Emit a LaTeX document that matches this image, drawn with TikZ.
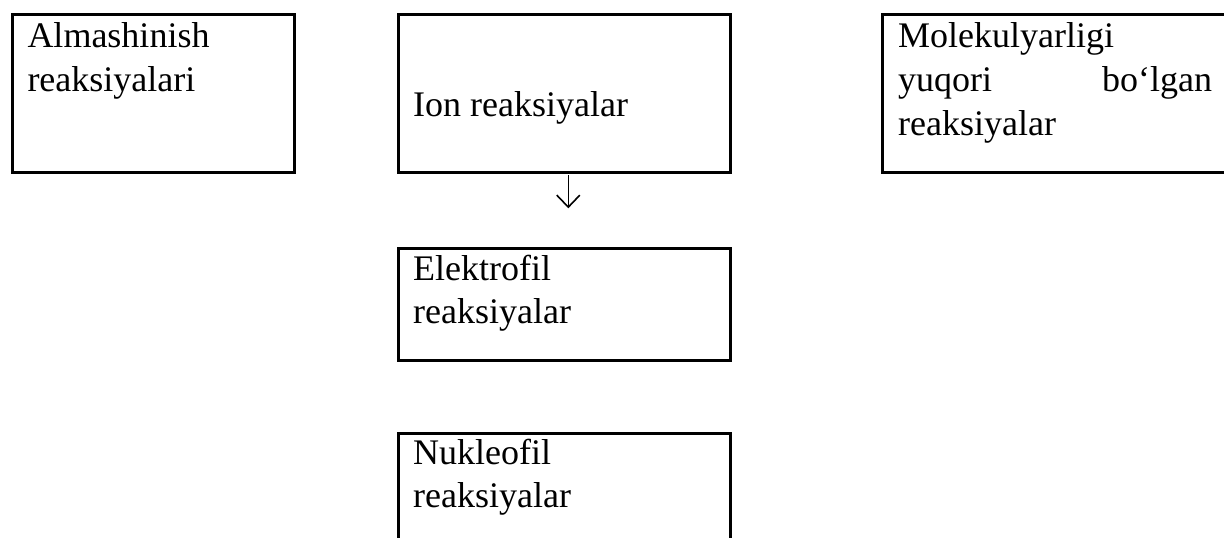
\documentclass[tikz,border=0pt]{standalone}
\usepackage{fontspec}
\setmainfont{Liberation Serif}
\usetikzlibrary{arrows.meta}
\begin{document}
\begin{tikzpicture}[x=1pt,y=-1pt,
  box/.style={draw, line width=3pt, inner sep=0pt, anchor=north west},
  txt/.style={anchor=base west, inner sep=0pt, font=\fontsize{36}{44}\selectfont},
  arr/.style={line width=1.6pt, -{Straight Barb[length=12pt,width=23pt]}}]
\useasboundingbox[fill=white] (0,0) rectangle (1224,538);
% boxes
\node[box, minimum width=282.6pt, minimum height=157.4pt] (almash) at (10.7,13.3) {};
\node[box, minimum width=332pt, minimum height=157.4pt] (ion) at (396.7,13.3) {};
\node[box, minimum width=332pt, minimum height=112.6pt] (elek) at (396.7,246.7) {};
\node[box, minimum width=332pt, minimum height=140pt] (nukl) at (396.7,431.7) {};
\node[box, minimum width=380pt, minimum height=157.4pt] (molek) at (881.3,13.3) {};
% texts
\node[txt] (t1a) at (27.3,47.3) {Almashinish};
\node[txt] (t1b) at (27.3,91.5) {reaksiyalari};
\node[txt] (t2a) at (413,116.7) {Ion reaksiyalar};
\node[txt] (t3a) at (413,280.7) {Elektrofil};
\node[txt] (t3b) at (413,323.5) {reaksiyalar};
\node[txt] (t4a) at (413,464) {Nukleofil};
\node[txt] (t4b) at (413,507) {reaksiyalar};
\node[txt] (t5a) at (898,47.3) {Molekulyarligi};
\node[txt] (t5b) at (898,91.5) {\makebox[314pt][s]{yuqori\hfill bo‘lgan}};
\node[txt] (t5c) at (898,135.5) {reaksiyalar};
% arrow
\coordinate (atop) at (568.3,175);
\coordinate (abot) at (568.3,208.3);
\draw[arr] (atop) -- (abot);
\end{tikzpicture}
\end{document}
